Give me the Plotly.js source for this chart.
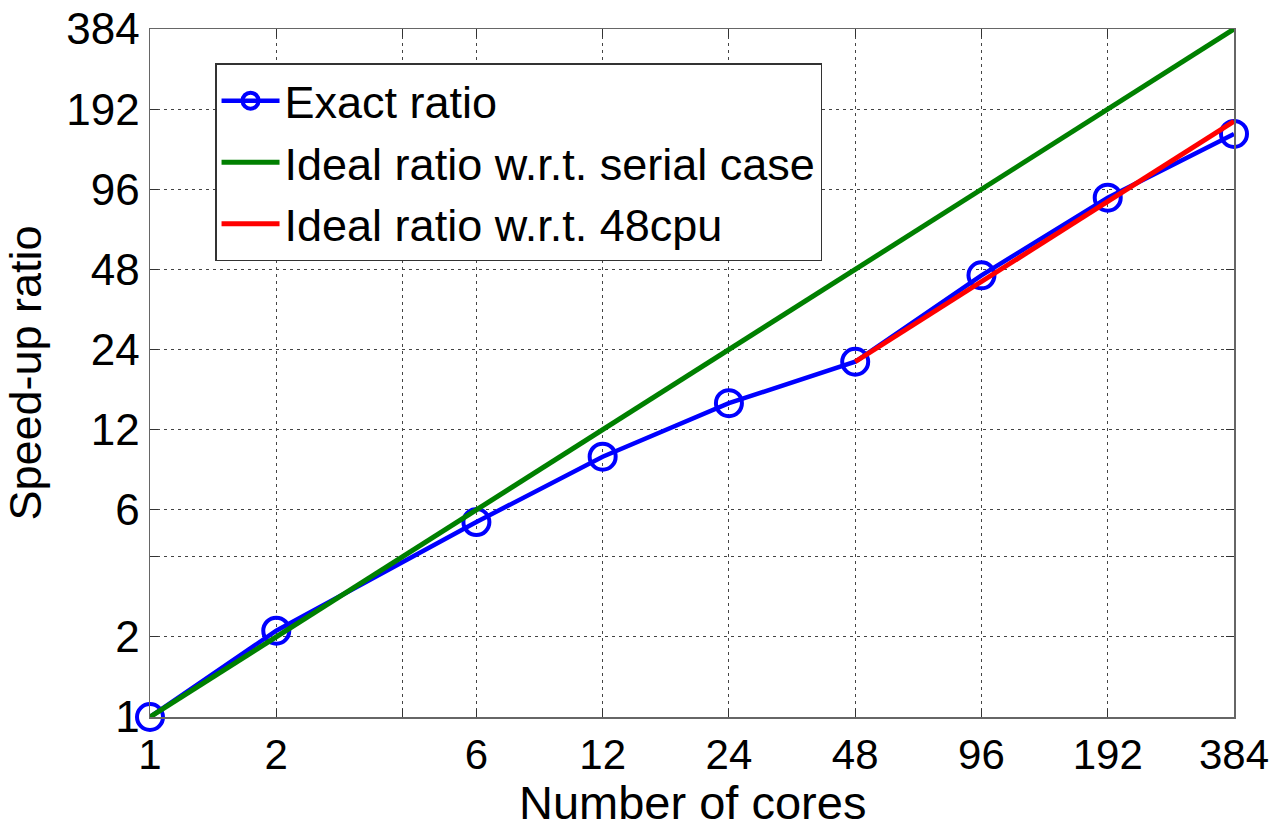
<!DOCTYPE html>
<html>
<head>
<meta charset="utf-8">
<script src="https://cdn.plot.ly/plotly-3.0.1.min.js"></script>
<style>html,body{margin:0;padding:0;background:#fff;}#chart{width:1275px;height:828px;}</style>
</head>
<body>
<div id="chart"></div>
<script>
var cores = [1, 2, 6, 12, 24, 48, 96, 192, 384];
var exactRatio = [1, 2.11, 5.4, 9.5, 15.1, 21.6, 45.6, 89.3, 155];
var idealSerial = [1, 2, 6, 12, 24, 48, 96, 192, 384];
var cores48 = [48, 96, 192, 384];
var ideal48 = [21.6, 43.2, 86.4, 172.8];
var tickVals = [1, 2, 4, 6, 12, 24, 48, 96, 192, 384];
var tickText = ['1', '2', '', '6', '12', '24', '48', '96', '192', '384'];
var xTitle = 'Number of cores';
var yTitle = 'Speed-up ratio';

var FONT = 'Liberation Sans, Arial, sans-serif';

var traces = [
  {x: cores, y: exactRatio, name: 'Exact ratio', mode: 'lines+markers', type: 'scatter',
   cliponaxis: false,
   line: {color: '#0000ff', width: 4.5},
   marker: {symbol: 'circle-open', size: 26, color: '#0000ff', line: {width: 4, color: '#0000ff'}}},
  {x: cores, y: idealSerial, name: 'Ideal ratio w.r.t. serial case', mode: 'lines', type: 'scatter',
   line: {color: '#008000', width: 5}},
  {x: cores48, y: ideal48, name: 'Ideal ratio w.r.t. 48cpu', mode: 'lines', type: 'scatter',
   line: {color: '#ff0000', width: 5}}
];

var axisCommon = {
  type: 'log',
  range: [0, Math.log10(384)],
  tickmode: 'array',
  tickvals: tickVals,
  ticktext: tickText,
  ticks: 'inside',
  ticklen: 8,
  tickwidth: 1,
  tickcolor: '#333',
  showgrid: true,
  gridcolor: '#444',
  gridwidth: 1,
  griddash: '3px,4px',
  showline: true,
  linecolor: '#666',
  linewidth: 1.5,
  mirror: 'ticks',
  zeroline: false,
  tickfont: {family: FONT, size: 44, color: '#000'}
};

var layout = {
  width: 1275, height: 828,
  margin: {l: 150, r: 41, t: 29, b: 111},
  paper_bgcolor: '#fff', plot_bgcolor: '#fff',
  showlegend: true,
  xaxis: Object.assign({}, axisCommon, {
    tickfont: {family: FONT, size: 42, color: '#000'}
  }),
  yaxis: Object.assign({}, axisCommon, {
    title: {text: yTitle, font: {family: FONT, size: 45, color: '#000'}, standoff: 18}
  }),
  annotations: [{
    text: xTitle, xref: 'paper', yref: 'paper', x: 0.5, y: -0.166,
    xanchor: 'center', yanchor: 'bottom', showarrow: false,
    font: {family: FONT, size: 47, color: '#000'}
  }],
  legend: {
    x: 0.06, y: 0.95, xanchor: 'left', yanchor: 'top',
    bgcolor: '#fff', bordercolor: '#333', borderwidth: 1.5,
    font: {family: FONT, size: 45, color: '#000'},
    itemwidth: 58
  }
};

Plotly.newPlot('chart', traces, layout, {staticPlot: true});
</script>
</body>
</html>
